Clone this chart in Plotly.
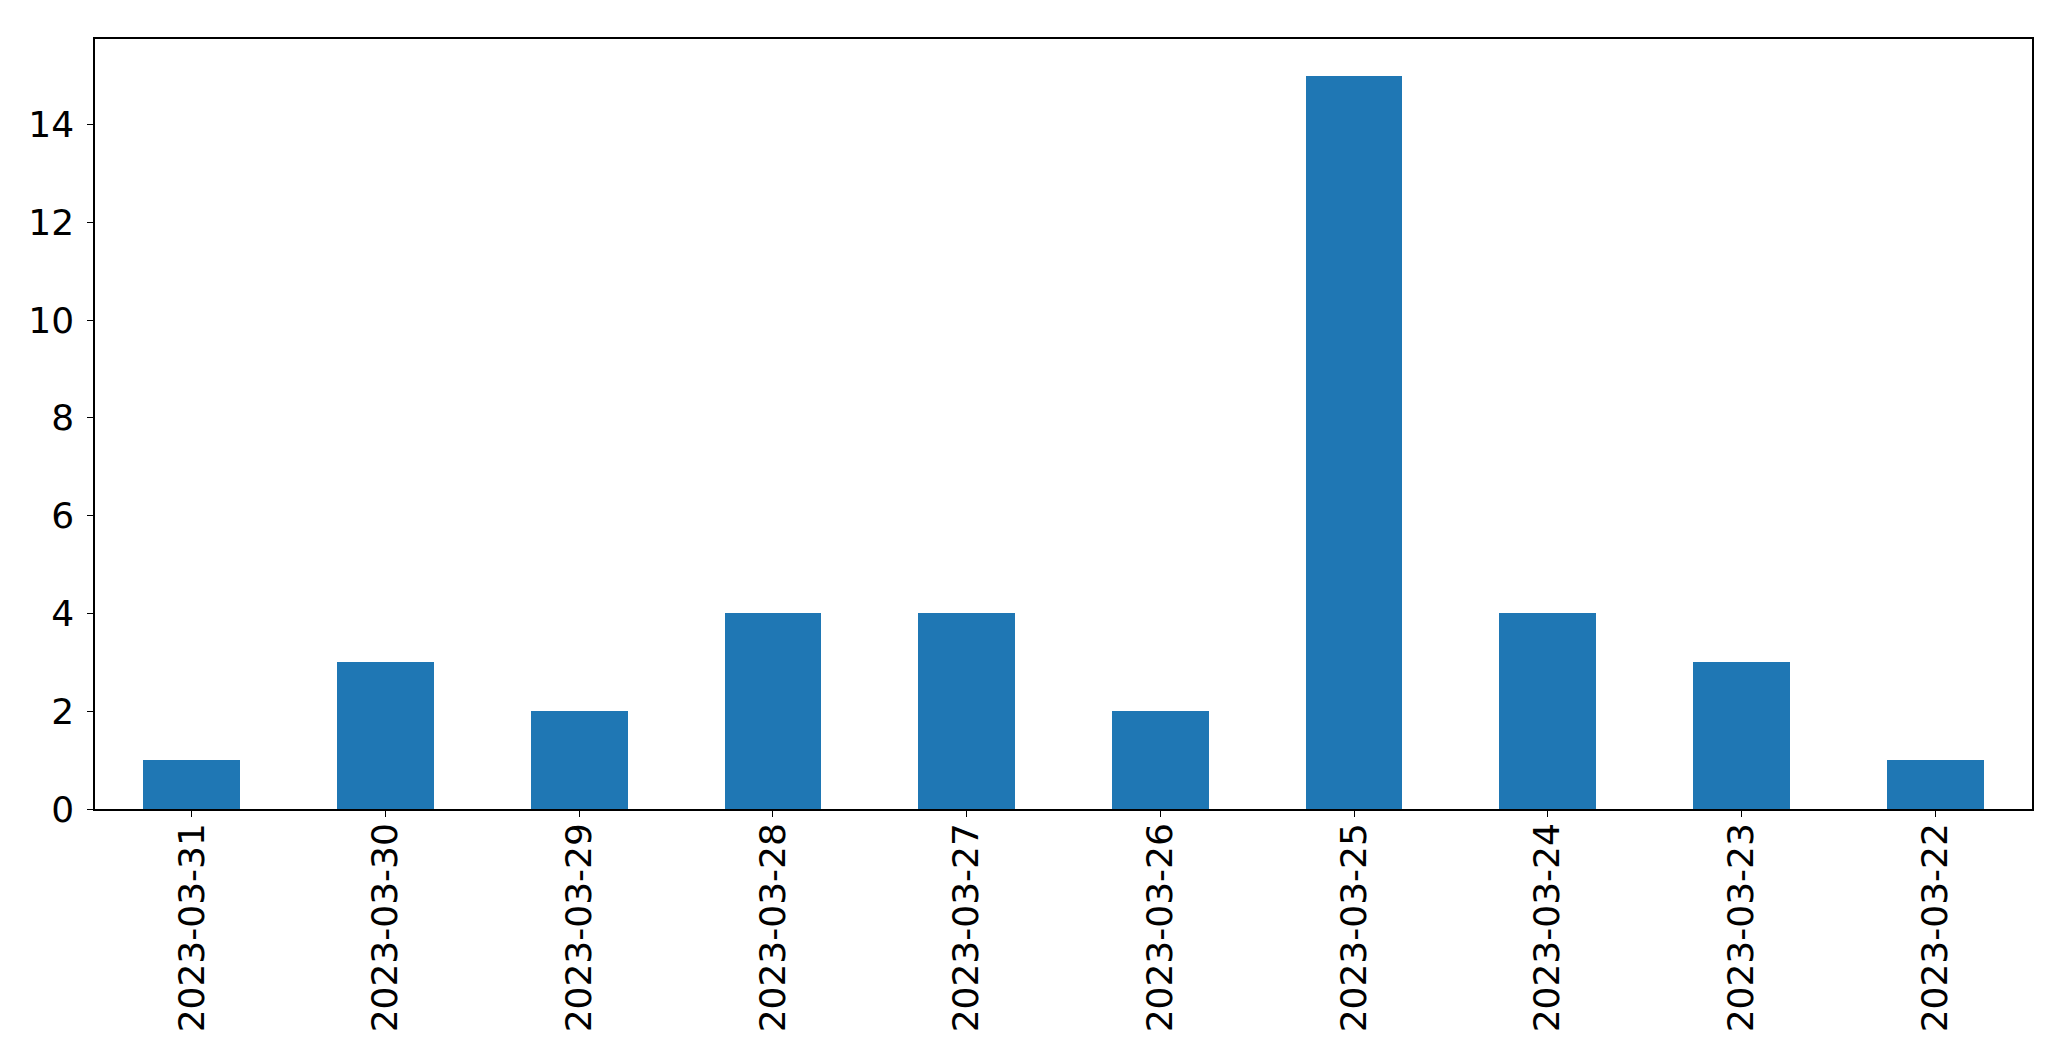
import plotly.graph_objects as go

dates = ["2023-03-31", "2023-03-30", "2023-03-29", "2023-03-28", "2023-03-27",
         "2023-03-26", "2023-03-25", "2023-03-24", "2023-03-23", "2023-03-22"]
counts = [1, 3, 2, 4, 4, 2, 15, 4, 3, 1]
y_ticks = [0, 2, 4, 6, 8, 10, 12, 14]

fig = go.Figure(go.Bar(x=dates, y=counts, width=0.5, marker=dict(color="#1f77b4", line=dict(width=0))))

fig.update_layout(
    width=2071, height=1061, autosize=False,
    margin=dict(l=87, r=47, t=31, b=260, pad=0),
    paper_bgcolor="white", plot_bgcolor="white",
    font=dict(family="DejaVu Sans", size=36, color="black"),
    showlegend=False, bargap=0,
)
fig.update_xaxes(
    type="category", range=[-0.5, 9.5], tickangle=-90,
    showline=True, linecolor="black", linewidth=1.5, mirror=True,
    ticks="outside", ticklen=6, tickwidth=1.3, tickcolor="black",
    showgrid=False, zeroline=False, ticklabelstandoff=-8,
)
fig.update_yaxes(
    range=[0, 15.75], tickvals=y_ticks,
    showline=True, linecolor="black", linewidth=1.5, mirror=True,
    ticks="outside", ticklen=6, tickwidth=1.3, tickcolor="black",
    showgrid=False, zeroline=False, ticklabelstandoff=6,
)
fig.write_html("out.html")
